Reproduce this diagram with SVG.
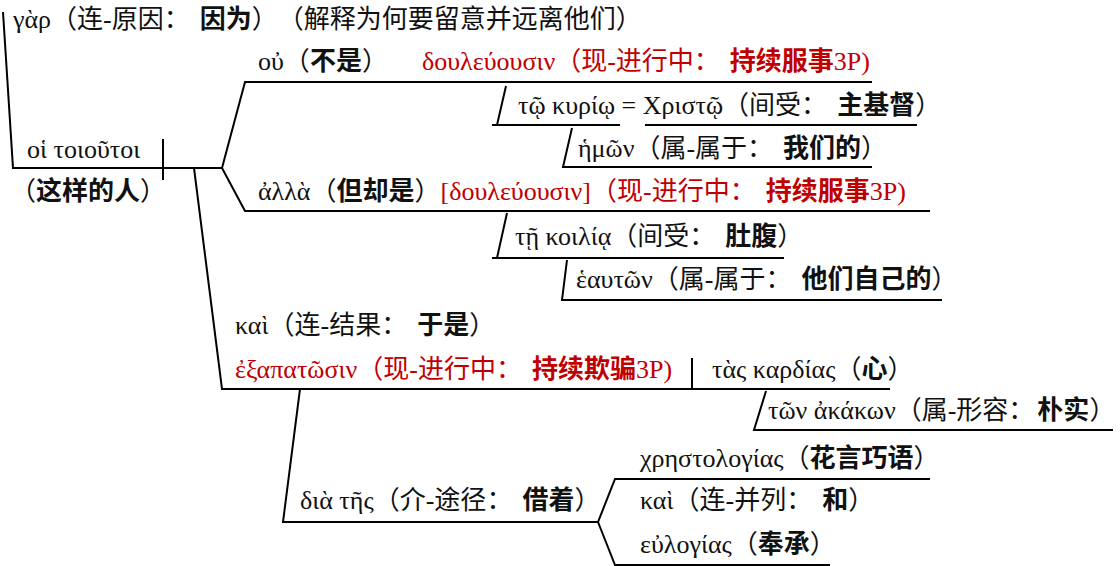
<svg xmlns="http://www.w3.org/2000/svg" width="1120" height="566" viewBox="0 0 1120 566">
<style>
text{font-family:"Liberation Serif","Noto Sans CJK SC",serif;font-size:26px;fill:#111;text-spacing-trim:space-all}
.b{font-weight:bold}
.r{fill:#c00000}
.c{font-family:"Noto Sans CJK SC",sans-serif;letter-spacing:10px}
.ln{stroke:#000;stroke-width:2;fill:none}
</style>
<rect width="1120" height="566" fill="#fff"/>
<g id="connectors" class="ln">
<polyline points="3,12 13,168 222,168 245,82 872,82"/>
<line x1="163" y1="139" x2="163" y2="180"/>
<polyline points="506,86 497,125"/>
<line x1="492" y1="125" x2="620" y2="125"/>
<line x1="645" y1="125" x2="917" y2="125"/>
<polyline points="572,128 563,167 872,167"/>
<polyline points="222,168 245,211 930,211"/>
<polyline points="507,213 497,258"/>
<line x1="492" y1="258" x2="784" y2="258"/>
<polyline points="567,260 562,300 942,300"/>
<polyline points="194,168 222,389 890,389"/>
<line x1="692" y1="358" x2="692" y2="389"/>
<polyline points="766,391 754,430 1113,430"/>
<polyline points="300,389 283,522 598,522 615,479 930,479"/>
<polyline points="598,522 615,565 830,565"/>
</g>
<g id="gar"><text x="13" y="28">γὰρ（连-原因<tspan class="c">：</tspan><tspan class="b">因为</tspan>）（解释为何要留意并远离他们）</text></g>
<g id="subject"><text x="27" y="158">οἱ τοιοῦτοι</text><text x="10" y="200">（<tspan class="b">这样的人</tspan>）</text></g>
<g id="ou"><text x="258" y="70">οὐ（<tspan class="b">不是</tspan>）</text></g>
<g id="verb1"><text x="422" y="70" class="r">δουλεύουσιν（现-进行中<tspan class="c">：</tspan><tspan class="b">持续服事</tspan>3P)</text></g>
<g id="kyrio"><text x="518" y="114">τῷ κυρίῳ = Χριστῷ（间受<tspan class="c">：</tspan><tspan class="b">主基督</tspan>）</text></g>
<g id="hemon"><text x="578" y="157">ἡμῶν（属-属于<tspan class="c">：</tspan><tspan class="b">我们的</tspan>）</text></g>
<g id="alla"><text x="258" y="200">ἀλλὰ（<tspan class="b">但却是</tspan>）<tspan class="r">[δουλεύουσιν]（现-进行中<tspan class="c">：</tspan><tspan class="b">持续服事</tspan>3P)</tspan></text></g>
<g id="koilia"><text x="515" y="245">τῇ κοιλίᾳ（间受<tspan class="c">：</tspan><tspan class="b">肚腹</tspan>）</text></g>
<g id="heauton"><text x="576" y="288">ἑαυτῶν（属-属于<tspan class="c">：</tspan><tspan class="b">他们自己的</tspan>）</text></g>
<g id="kai1"><text x="235" y="334">καὶ（连-结果<tspan class="c">：</tspan><tspan class="b">于是</tspan>）</text></g>
<g id="verb2"><text x="235" y="378" class="r">ἐξαπατῶσιν（现-进行中<tspan class="c">：</tspan><tspan class="b">持续欺骗</tspan>3P)</text></g>
<g id="kardias"><text x="712" y="378">τὰς καρδίας（<tspan class="b">心</tspan>）</text></g>
<g id="akakon"><text x="768" y="419">τῶν ἀκάκων（属-形容<tspan class="c" style="letter-spacing:3px">：</tspan><tspan class="b">朴实</tspan>）</text></g>
<g id="dia"><text x="300" y="509">διὰ τῆς（介-途径<tspan class="c">：</tspan><tspan class="b">借着</tspan>）</text></g>
<g id="chresto"><text x="640" y="467">χρηστολογίας（<tspan class="b">花言巧语</tspan>）</text></g>
<g id="kai2"><text x="640" y="509">καὶ（连-并列<tspan class="c">：</tspan><tspan class="b">和</tspan>）</text></g>
<g id="eulogias"><text x="640" y="553">εὐλογίας（<tspan class="b">奉承</tspan>）</text></g>
</svg>
